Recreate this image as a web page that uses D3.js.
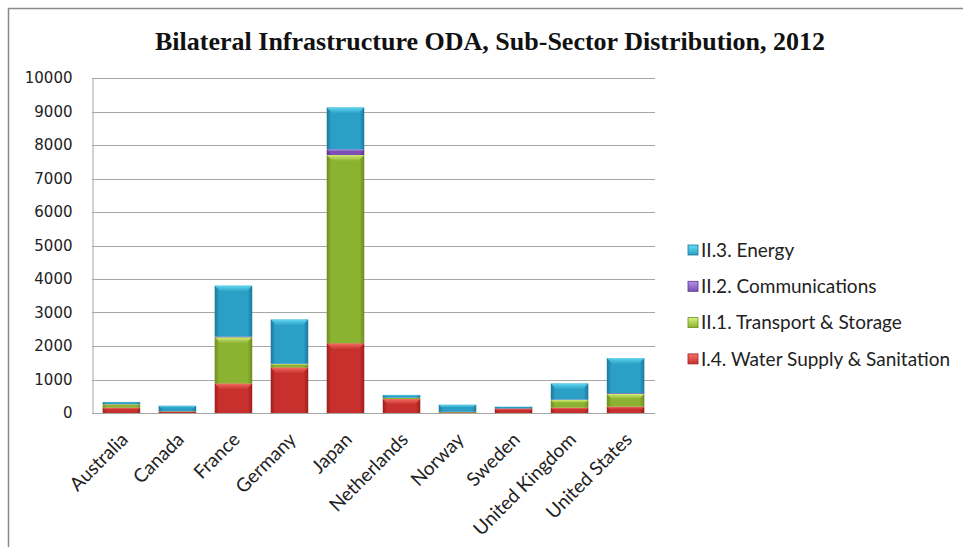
<!DOCTYPE html>
<html>
<head>
<meta charset="utf-8">
<script src="https://cdn.jsdelivr.net/npm/d3@7"></script>
<style>
  html, body { margin: 0; padding: 0; background: #fff; }
  svg { display: block; }
</style>
</head>
<body>
<svg id="chart" width="963" height="547"></svg>
<script>
// Bilateral infrastructure ODA by donor, split by sub-sector (USD millions, 2012)
const countries = ["Australia", "Canada", "France", "Germany", "Japan",
                   "Netherlands", "Norway", "Sweden", "United Kingdom", "United States"];
const waterSupply    = [160,  40,  880, 1360, 2080, 420,  20, 130, 160,  190];
const transport      = [100,  10, 1380,  100, 5620,  30,  10,   5, 230,  380];
const communications = [ 10,   5,   20,   10,  170,   5,   5,   5,  10,   20];
const energy         = [ 60, 160, 1520, 1320, 1250,  85, 210,  45, 480, 1050];
const yTicks = [0, 1000, 2000, 3000, 4000, 5000, 6000, 7000, 8000, 9000, 10000];

const seriesNames = ["I.4. Water Supply & Sanitation", "II.1. Transport & Storage",
                     "II.2. Communications", "II.3. Energy"];
const seriesValues = [waterSupply, transport, communications, energy];
const palette = [
  { base: "#c8302d", dark: "#9c1f1d", light: "#f7736a" },
  { base: "#8bb230", dark: "#6a8c1e", light: "#dcf27e" },
  { base: "#7b4fb3", dark: "#58338a", light: "#b592e6" },
  { base: "#2b9fc6", dark: "#1b7799", light: "#66dcf2" }
];

const svg = d3.select("#chart");
const defs = svg.append("defs");

// bevel-like shading for each series
palette.forEach((c, i) => {
  const h = defs.append("linearGradient").attr("id", "h" + i)
    .attr("x1", 0).attr("x2", 1).attr("y1", 0).attr("y2", 0);
  h.append("stop").attr("offset", "0%").attr("stop-color", c.dark);
  h.append("stop").attr("offset", "12%").attr("stop-color", c.base);
  h.append("stop").attr("offset", "88%").attr("stop-color", c.base);
  h.append("stop").attr("offset", "100%").attr("stop-color", c.dark);
  const v = defs.append("linearGradient").attr("id", "v" + i)
    .attr("x1", 0).attr("x2", 0).attr("y1", 0).attr("y2", 1);
  v.append("stop").attr("offset", "0%").attr("stop-color", c.light);
  v.append("stop").attr("offset", "100%").attr("stop-color", c.base);
});

// outer frame
svg.append("path")
  .attr("d", "M8.5,547 L8.5,8.5 L963,8.5")
  .attr("fill", "none").attr("stroke", "#8a8a8a").attr("stroke-width", 1.5);

// title
svg.append("text")
  .attr("x", 490).attr("y", 50)
  .attr("text-anchor", "middle")
  .attr("font-family", "Liberation Serif, serif")
  .attr("font-weight", "bold")
  .attr("font-size", 26)
  .attr("fill", "#111")
  .text("Bilateral Infrastructure ODA, Sub-Sector Distribution, 2012");

const x = d3.scaleBand().domain(countries).range([92, 655])
  .paddingInner(0.33).paddingOuter(0.19);
const y = d3.scaleLinear().domain([0, 10000]).range([413, 78]);

// gridlines
svg.append("g").selectAll("line").data(yTicks).join("line")
  .attr("x1", 92).attr("x2", 655)
  .attr("y1", d => Math.round(y(d)) + 0.5).attr("y2", d => Math.round(y(d)) + 0.5)
  .attr("stroke", "#a6a6a6").attr("stroke-width", 1);

// y axis
const yAxis = svg.append("g").attr("transform", "translate(92.5,0)")
  .call(d3.axisLeft(y).tickValues(yTicks).tickFormat(d3.format("d"))
    .tickSize(0).tickPadding(20));
yAxis.select(".domain").attr("stroke", "#a6a6a6");
yAxis.selectAll("text")
  .attr("font-family", "DejaVu Sans, sans-serif")
  .attr("font-size", 15).attr("fill", "#222");

// stacked bars
const table = countries.map((c, i) => {
  const row = { country: c };
  seriesNames.forEach((s, k) => row[s] = seriesValues[k][i]);
  return row;
});
const stacked = d3.stack().keys(seriesNames)(table);

stacked.forEach((layer, k) => {
  const g = svg.append("g");
  layer.forEach(seg => {
    const cx = x(seg.data.country);
    const bw = x.bandwidth();
    const y0 = y(seg[0]), y1 = y(seg[1]);
    const hgt = y0 - y1;
    if (hgt <= 0) return;
    g.append("rect")
      .attr("x", cx).attr("y", y1).attr("width", bw).attr("height", hgt)
      .attr("fill", `url(#h${k})`);
    const bev = Math.min(6, hgt * 0.4);
    g.append("path")
      .attr("d", `M${cx},${y1} L${cx + bw},${y1} L${cx + bw - bev},${y1 + bev} L${cx + bev},${y1 + bev} Z`)
      .attr("fill", `url(#v${k})`).attr("opacity", 0.9);
  });
});

// x-axis baseline
svg.append("line")
  .attr("x1", 92).attr("x2", 655)
  .attr("y1", Math.round(y(0)) + 0.5).attr("y2", Math.round(y(0)) + 0.5)
  .attr("stroke", "#a6a6a6");

// category labels
svg.append("g").selectAll("text").data(countries).join("text")
  .attr("transform", d => `translate(${x(d) + x.bandwidth() / 2 + 3},${436}) rotate(-45)`)
  .attr("text-anchor", "end")
  .attr("dy", "0.35em")
  .attr("font-family", "Lato, sans-serif")
  .attr("font-size", 19).attr("fill", "#222")
  .text(d => d);

// legend, energy listed first
const legendOrder = [3, 2, 1, 0];
const lg = svg.append("g");
legendOrder.forEach((k, i) => {
  const yy = 250 + i * 36.3;
  lg.append("rect").attr("x", 688).attr("y", yy - 5).attr("width", 10).attr("height", 10)
    .attr("fill", `url(#v${k})`).attr("stroke", palette[k].dark).attr("stroke-width", 0.8);
  lg.append("text").attr("x", 701).attr("y", yy).attr("dy", "0.35em")
    .attr("font-family", "Lato, sans-serif").attr("font-size", 19).attr("fill", "#222")
    .text(seriesNames[k]);
});
</script>
</body>
</html>
